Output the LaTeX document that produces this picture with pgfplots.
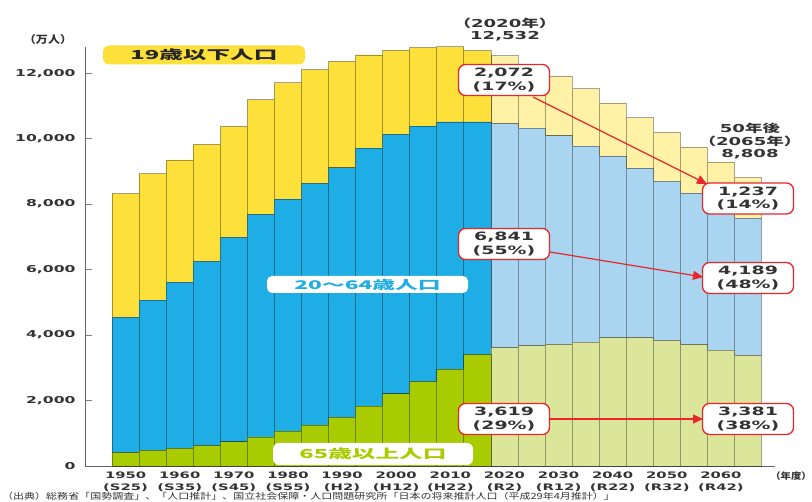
\documentclass[border=0pt]{standalone}
\usepackage{pgfplots}
\pgfplotsset{compat=1.18}
\usepackage{pgfplotstable}
\usetikzlibrary{arrows.meta}
\usepackage{fontspec}
\setmainfont{Noto Sans CJK JP}
\newfontfamily\jpf[FakeStretch=1.6]{Noto Sans CJK JP}
\newfontfamily\jpw[FakeStretch=1.9]{Noto Sans CJK JP}
\newfontfamily\srcf[FakeStretch=1.15]{Noto Sans CJK JP}
\newfontfamily\srcs[FakeStretch=1.3]{Noto Sans CJK JP}
\newfontfamily\numf[FakeStretch=1.65]{DejaVu Sans}
\definecolor{yel}{HTML}{FDE03A}
\definecolor{yelL}{HTML}{FFF2A6}
\definecolor{blu}{HTML}{1EADE4}
\definecolor{bluL}{HTML}{AAD5F0}
\definecolor{grn}{HTML}{A9CC00}
\definecolor{grnL}{HTML}{DCE69A}
\definecolor{redc}{HTML}{E8262C}
\definecolor{txt}{HTML}{333333}
\pgfplotstableread{
x h65 p65 h2064 p2064 h019 p019
0 411 0 4129 0 3780 0
1 475 0 4594 0 3859 0
2 535 0 5074 0 3733 0
3 624 0 5626 0 3578 0
4 739 0 6244 0 3389 0
5 887 0 6798 0 3509 0
6 1065 0 7088 0 3553 0
7 1247 0 7385 0 3473 0
8 1489 0 7620 0 3252 0
9 1826 0 7884 0 2847 0
10 2204 0 7924 0 2565 0
11 2576 0 7806 0 2395 0
12 2948 0 7565 0 2293 0
13 3400 0 7113 0 2177 0
14 0 3619 0 6841 0 2072
15 0 3677 0 6644 0 1933
16 0 3716 0 6370 0 1827
17 0 3782 0 5989 0 1751
18 0 3921 0 5535 0 1636
19 0 3919 0 5171 0 1552
20 0 3841 0 4861 0 1490
21 0 3704 0 4622 0 1418
22 0 3540 0 4399 0 1345
23 0 3381 0 4189 0 1237
}\popdata
\newcommand\N[1]{{\numf\bfseries #1}}
\begin{document}
\begin{tikzpicture}[x=1bp,y=1bp]
\useasboundingbox (0,0) rectangle (812,502);
\begin{axis}[
  at={(85bp,36bp)}, anchor=south west,
  scale only axis, width=690bp, height=419bp,
  xmin=-1.5, xmax=24, ymin=0, ymax=12800,
  enlargelimits=false,
  ybar stacked, bar width=1,
  axis x line*=bottom, axis y line*=left,
  axis line style={black!60, line width=0.8bp},
  scaled y ticks=false,
  ytick={0,2000,4000,6000,8000,10000,12000},
  yticklabels={0,{2,000},{4,000},{6,000},{8,000},{10,000},{12,000}},
  tick align=inside, major tick length=7bp,
  ytick style={black!50, line width=0.8bp},
  yticklabel style={font=\numf\bfseries\fontsize{9.5}{11}\selectfont, text=txt, xshift=-6bp},
  xtick={0,2,...,22}, xtick style={draw=none},
  xticklabels={{1950\\(S25)},{1960\\(S35)},{1970\\(S45)},{1980\\(S55)},{1990\\(H2)},{2000\\(H12)},{2010\\(H22)},{2020\\(R2)},{2030\\(R12)},{2040\\(R22)},{2050\\(R32)},{2060\\(R42)}},
  xticklabel style={font=\numf\bfseries\fontsize{9}{12}\selectfont, text=txt, align=center, yshift=-2bp},
  clip=false,
  every axis plot/.append style={draw=black, draw opacity=0.35, line width=0.7bp},
]
\addplot[fill=grn] table[x=x,y=h65]{\popdata};
\addplot[fill=grnL] table[x=x,y=p65]{\popdata};
\addplot[fill=blu] table[x=x,y=h2064]{\popdata};
\addplot[fill=bluL] table[x=x,y=p2064]{\popdata};
\addplot[fill=yel] table[x=x,y=h019]{\popdata};
\addplot[fill=yelL] table[x=x,y=p019]{\popdata};
\end{axis}
% units
\node[font=\srcf\bfseries\fontsize{10.5}{12}\selectfont, text=txt] at (48,462) {（万人）};
\node[font=\srcf\bfseries\fontsize{9}{10}\selectfont, text=txt] at (791,26) {（年度）};
% category labels
\node[fill=yel, rounded corners=6bp, minimum width=202bp, minimum height=19bp, inner sep=0pt,
      font=\jpw\bfseries\fontsize{12.5}{14}\selectfont, text=black!85] at (204,447) {19歳以下人口};
\node[fill=white, rounded corners=5bp, minimum width=201bp, minimum height=17bp, inner sep=0pt,
      font=\jpw\bfseries\fontsize{12}{14}\selectfont, text=blu] at (367.5,217.5) {20～64歳人口};
\node[fill=white, rounded corners=6bp, minimum width=200bp, minimum height=22bp, inner sep=0pt,
      font=\jpw\bfseries\fontsize{12.5}{14}\selectfont, text=grn] at (373,48) {65歳以上人口};
% totals
\node[align=center, text=txt, font=\fontsize{11}{12.5}\selectfont, inner sep=0pt] at (505,472.5)
  {{\jpf\bfseries （}\N{2020}{\jpf\bfseries 年）}\\\N{12,532}};
\node[align=center, text=txt, font=\fontsize{11}{12.5}\selectfont, inner sep=0pt] at (750,360.5)
  {\N{50}{\jpf\bfseries 年後}\\{\jpf\bfseries （}\N{2065}{\jpf\bfseries 年）}\\\N{8,808}};
% boxes
\tikzset{vb/.style={draw=redc, line width=1.3bp, rounded corners=7bp, fill=white,
  minimum width=91bp, minimum height=31bp, inner sep=0pt, align=center, text=txt,
  font=\numf\bfseries\fontsize{11.5}{13.5}\selectfont}}
\node[vb] at (504,422) {2,072\\(17\%)};
\node[vb] at (748,303.5) {1,237\\(14\%)};
\node[vb] at (504,258) {6,841\\(55\%)};
\node[vb] at (748,224) {4,189\\(48\%)};
\node[vb] at (504,83) {3,619\\(29\%)};
\node[vb] at (748,83) {3,381\\(38\%)};
\draw[redc, line width=1.2bp, -{Triangle[length=10bp,width=9bp]}] (533,405) -- (707,318);
\draw[redc, line width=1.2bp, -{Triangle[length=10bp,width=9bp]}] (550,250) -- (703,225);
\draw[redc, line width=1.2bp, -{Triangle[length=10bp,width=9bp]}] (550,83) -- (703,83);
% source
\node[anchor=west, inner sep=0pt, text=txt, font=\srcs\fontsize{8.5}{10}\selectfont] at (2,6)
  {（出典）総務省「国勢調査」、「人口推計」、国立社会保障・人口問題研究所「日本の将来推計人口（平成29年4月推計）」};
\end{tikzpicture}
\end{document}
